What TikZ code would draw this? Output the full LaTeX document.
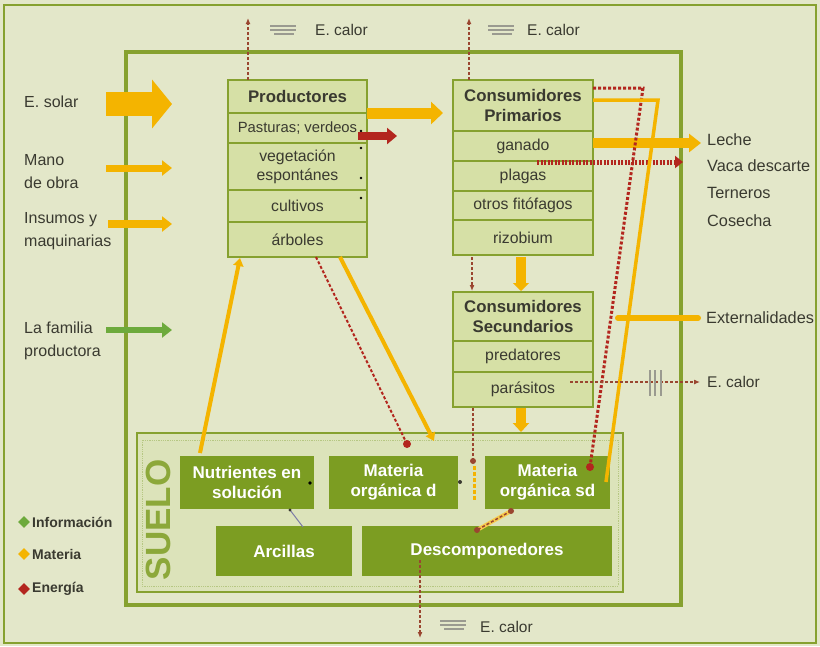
\documentclass[tikz,border=0pt]{standalone}
\usepackage{fontspec}
\setmainfont{Liberation Sans}
\usetikzlibrary{arrows.meta,shapes.geometric}
\definecolor{bg}{HTML}{E3E7C9}
\definecolor{soilbg}{HTML}{DCE3BA}
\definecolor{olive}{HTML}{86A12F}
\definecolor{suelog}{HTML}{8CA83A}
\definecolor{boxfill}{HTML}{D6E0A6}
\definecolor{soilg}{HTML}{7C9D22}
\definecolor{yel}{HTML}{F4B400}
\definecolor{enr}{HTML}{B3261E}
\definecolor{brn}{HTML}{9A4630}
\definecolor{info}{HTML}{6DAA3C}
\definecolor{txt}{HTML}{3A3A30}
\definecolor{heatg}{HTML}{9A9A90}
\begin{document}
\begin{tikzpicture}[x=1pt,y=-1pt,
  lbl/.style={font=\fontsize{16}{23}\selectfont, text=txt, inner sep=0pt, align=left, anchor=west},
  rtl/.style={font=\fontsize{16.3}{18}\selectfont, text=txt, inner sep=0pt, anchor=west},
  tcal/.style={font=\fontsize{15.5}{18}\selectfont, text=txt, inner sep=0pt, anchor=west},
  prow/.style={draw=olive, line width=1.3, fill=boxfill, inner sep=0pt, minimum width=139, align=center, font=\fontsize{15.8}{19}\selectfont, text=txt},
  ptitle/.style={prow, font=\bfseries\fontsize{16.8}{20}\selectfont},
  crow/.style={prow, minimum width=140},
  ctitle/.style={ptitle, minimum width=140},
  sbox/.style={fill=soilg, inner sep=0pt, text=white, align=center, font=\bfseries\fontsize{17}{20}\selectfont},
  heat/.style={brn, densely dashed, line width=1.3, -{Latex[length=6pt,width=5pt]}},
  enddot/.style={enr, line width=2.5, dash pattern=on 3pt off 2pt},
  legd/.style={diamond, inner sep=0pt, minimum size=12},
  legt/.style={anchor=west, font=\bfseries\fontsize{14}{16}\selectfont, text=txt, inner sep=0pt}
]
\fill[bg] (0,0) rectangle (820,646);
\useasboundingbox (0,0) rectangle (820,646);
\draw[olive, line width=2] (4,5) rectangle (816,643);
% main frame
\draw[olive, line width=3.5] (126,52) rectangle (681,605);
% soil frame
\draw[olive, line width=1.5, fill=soilbg] (137,433) rectangle (623,592);
\draw[olive!60, line width=0.8, densely dotted] (142,440) rectangle (618,586);

% producers
\node[ptitle, minimum height=33] (p0) at (297.5,96.5) {Productores};
\node[prow, minimum height=30, font=\fontsize{14.8}{18}\selectfont] (p1) at (297.5,128) {Pasturas; verdeos};
\node[prow, minimum height=47] (p2) at (297.5,166.5) {vegetación\\espontánes};
\node[prow, minimum height=32] (p3) at (297.5,206) {cultivos};
\node[prow, minimum height=35] (p4) at (297.5,239.5) {árboles};
\foreach \yy in {131,148,178,198} \fill[black] (361,\yy) circle (1.3pt);

% primary consumers
\node[ctitle, minimum height=51] (c0) at (523,105.5) {Consumidores\\Primarios};
\node[crow, minimum height=30] (c1) at (523,146) {ganado};
\node[crow, minimum height=30] (c2) at (523,176) {plagas};
\node[crow, minimum height=29] (c3) at (523,205.5) {otros fitófagos};
\node[crow, minimum height=35] (c4) at (523,237.5) {rizobium};

% secondary consumers
\node[ctitle, minimum height=49] (s0) at (523,316.5) {Consumidores\\Secundarios};
\node[crow, minimum height=31] (s1) at (523,356.5) {predatores};
\node[crow, minimum height=35] (s2) at (523,389.5) {parásitos};

% soil boxes
\node[sbox, minimum width=134, minimum height=53] (nut) at (247,482.5) {Nutrientes en\\solución};
\node[sbox, minimum width=129, minimum height=53] (mod) at (393.5,482.5) {Materia\\orgánica d};
\node[sbox, minimum width=125, minimum height=53] (mosd) at (547.5,482.5) {Materia\\orgánica sd};
\node[sbox, minimum width=136, minimum height=50] (arc) at (284,551) {Arcillas};
\node[sbox, minimum width=250, minimum height=50] (desc) at (487,551) {Descomponedores};
\node[rotate=90, font=\bfseries\fontsize{35}{35}\selectfont, text=suelog, inner sep=0pt] (suelo) at (158,520) {SUELO};

% left labels
\node[lbl] (lsol) at (24,102) {E. solar};
\node[lbl] (lmano) at (24,171.5) {Mano\\de obra};
\node[lbl] (lins) at (24,231.5) {Insumos y\\maquinarias};
\node[lbl] (lfam) at (24,341) {La familia\\productora};

% right labels
\node[rtl] (leche) at (707,140) {Leche};
\node[rtl] (vaca) at (707,166) {Vaca descarte};
\node[rtl] (tern) at (707,193) {Terneros};
\node[rtl] (cos) at (707,221) {Cosecha};
\node[rtl] (ext) at (706,318) {Externalidades};
\node[tcal] (ecal3) at (707,382) {E. calor};
\node[tcal] (ecal1) at (315,30) {E. calor};
\node[tcal] (ecal2) at (527,30) {E. calor};
\node[tcal] (ecal4) at (480,627) {E. calor};

% legend
\node[legd, fill=info] (dinfo) at (24,522) {};
\node[legt] (linfo) at (32,522) {Información};
\node[legd, fill=yel] (dmat) at (24,554) {};
\node[legt] (lmat) at (32,554) {Materia};
\node[legd, fill=enr] (dene) at (24,589) {};
\node[legt] (lene) at (32,589) {Energía};

% input arrows
\coordinate (solA) at (106,104); \coordinate (solB) at (172,104);
\draw[yel, line width=24, -{Triangle[length=20pt,width=48pt]}] (solA) -- (solB);
\coordinate (manA) at (106,168); \coordinate (manB) at (172,168);
\draw[yel, line width=7, -{Triangle[length=10pt,width=15pt]}] (manA) -- (manB);
\coordinate (insA) at (108,224); \coordinate (insB) at (172,224);
\draw[yel, line width=8, -{Triangle[length=10pt,width=15pt]}] (insA) -- (insB);
\coordinate (famA) at (106,330); \coordinate (famB) at (172,330);
\draw[info, line width=6, -{Triangle[length=10pt,width=15pt]}] (famA) -- (famB);

% heat symbols
\foreach \xa/\ya in {270/26, 488/26, 440/621}{
  \draw[heatg, line width=1.2] (\xa,\ya) -- ++(26,0);
  \draw[heatg, line width=1.2] (\xa,\ya+4) -- ++(26,0);
  \draw[heatg, line width=1.2] (\xa+4,\ya+8) -- ++(20,0);
}
\coordinate (h1A) at (248,80); \coordinate (h1B) at (248,18);
\draw[heat] (h1A) -- (h1B);
\coordinate (h2A) at (469,80); \coordinate (h2B) at (469,18);
\draw[heat] (h2A) -- (h2B);
\coordinate (h4A) at (420,560); \coordinate (h4B) at (420,638);
\draw[heat] (h4A) -- (h4B);

% producers -> consumers
\coordinate (pcA) at (367,113); \coordinate (pcB) at (443,113);
\draw[yel, line width=11, -{Triangle[length=12pt,width=22pt]}] (pcA) -- (pcB);
\coordinate (reA) at (358,136); \coordinate (reB) at (397,136);
\draw[enr, line width=8, -{Triangle[length=10pt,width=16pt]}] (reA) -- (reB);

% outputs to the right
\coordinate (leA) at (593,143); \coordinate (leB) at (701,143);
\draw[yel, line width=10, -{Triangle[length=12pt,width=18pt]}] (leA) -- (leB);
\coordinate (plA) at (537,162); \coordinate (plB) at (683,162);
\draw[enr, line width=5, dash pattern=on 2pt off 1.5pt, -{Triangle[length=8pt,width=12pt]}] (plA) -- (plB);

% long lines to soil
\coordinate (rdA) at (593,88); \coordinate (rdK) at (643,88); \coordinate (rdB) at (590,467);
\draw[enddot, line width=3] (rdA) -- (rdK) -- (rdB);
\fill[enr] (rdB) circle (4pt);
\coordinate (ylA) at (593,100); \coordinate (ylK) at (658,100); \coordinate (ylB) at (606,482);
\draw[yel, line width=3.5] (ylA) -- (ylK) -- (ylB);
\coordinate (exA) at (618,318); \coordinate (exB) at (698,318);
\draw[yel, line width=6, line cap=round] (exA) -- (exB);

% parasitos -> E calor
\coordinate (paA) at (570,382); \coordinate (paB) at (700,382);
\draw[brn, line width=1.1, densely dashed, -{Latex[length=6pt,width=5pt]}] (paA) -- (paB);
\foreach \xx in {650,655,661} \draw[heatg, line width=1.1] (\xx,370) -- (\xx,396);

% vertical connections between consumers
\coordinate (v1A) at (521,257); \coordinate (v1B) at (521,291);
\draw[yel, line width=10, -{Triangle[length=8pt,width=16pt]}] (v1A) -- (v1B);
\coordinate (v2A) at (472,257); \coordinate (v2B) at (472,291);
\draw[heat] (v2A) -- (v2B);
\coordinate (v3A) at (521,408); \coordinate (v3B) at (521,432);
\draw[yel, line width=10, -{Triangle[length=9pt,width=16pt]}] (v3A) -- (v3B);
\coordinate (v4A) at (473,408); \coordinate (v4B) at (473,461);
\draw[brn, line width=1.5, densely dashed] (v4A) -- (v4B);
\fill[brn] (v4B) circle (3pt);
\coordinate (v5A) at (474,466); \coordinate (v5B) at (474,500);
\draw[yel, line width=3, dash pattern=on 4pt off 2pt] (v5A) -- (v5B);

% from arboles to soil
\coordinate (arA) at (316,257); \coordinate (arB) at (407,444);
\draw[enddot, line width=2] (arA) -- (arB);
\fill[enr] (arB) circle (4pt);
\coordinate (ayA) at (340,257); \coordinate (ayB) at (434,441);
\draw[yel, line width=4, -{Triangle[length=8pt,width=10pt]}] (ayA) -- (ayB);

% nutrients -> producers
\coordinate (nuA) at (200,453); \coordinate (nuB) at (240,258);
\draw[yel, line width=4, -{Triangle[length=8pt,width=10pt]}] (nuA) -- (nuB);

% internal soil links
\coordinate (naA) at (290,510); \coordinate (naB) at (303,527);
\draw[heatg!80!blue, line width=1] (naA) -- (naB);
\fill[txt] (naA) circle (1.6pt);
\fill[black] (310,483) circle (1.8pt);
\fill[txt] (460,482) circle (2pt);
\coordinate (mdA) at (511,511); \coordinate (mdB) at (477,530);
\draw[yel!70, line width=4] (mdA) -- (mdB);
\draw[brn, line width=1.5, densely dashed] (mdA) -- (mdB);
\fill[brn] (mdA) circle (3pt);
\fill[brn] (mdB) circle (3pt);
\end{tikzpicture}
\end{document}
